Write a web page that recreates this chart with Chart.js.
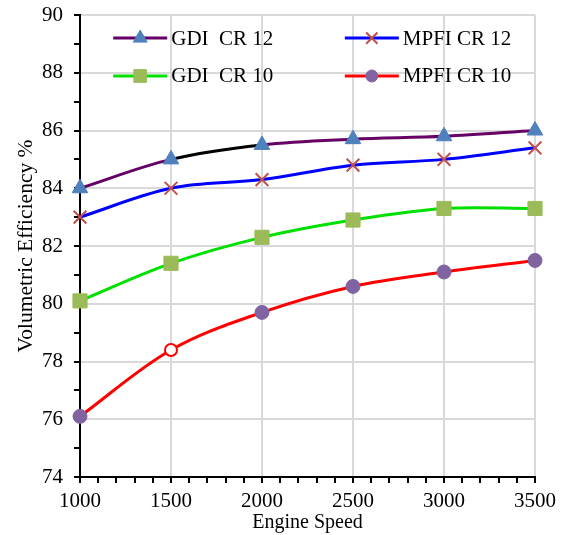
<!DOCTYPE html>
<html lang="en">
<head>
<meta charset="UTF-8">
<title>Volumetric Efficiency</title>
<script src="https://cdn.jsdelivr.net/npm/chart.js"></script>
<style>
  html, body { margin: 0; padding: 0; background: #fff; }
  #box { width: 565px; height: 535px; position: relative; }
</style>
</head>
<body>
<div id="box"><canvas id="grafico"></canvas></div>
<script>
// engine speed (x) values
var rpm = [1000, 1500, 2000, 2500, 3000, 3500];

// volumetric efficiency %
var gdiCr12  = [84.0, 85.0, 85.5, 85.7, 85.8, 86.0];
var mpfiCr12 = [83.0, 84.0, 84.3, 84.8, 85.0, 85.4];
var gdiCr10  = [80.1, 81.4, 82.3, 82.9, 83.3, 83.3];
var mpfiCr10 = [76.1, 78.4, 79.7, 80.6, 81.1, 81.5];

var nomes = ['GDI  CR 12', 'MPFI CR 12', 'GDI  CR 10', 'MPFI CR 10'];

function pontos(valores) {
  var lista = [];
  for (var i = 0; i < rpm.length; i++) {
    lista.push({ x: rpm[i], y: valores[i] });
  }
  return lista;
}

var fonte = "'Liberation Serif', 'Times New Roman', serif";

// legend drawn inside the plot area, two columns
var legendaDentro = {
  id: 'legendaDentro',
  afterDatasetsDraw: function (chart) {
    var ctx = chart.ctx;
    var area = chart.chartArea;
    var w = area.right - area.left;
    var h = area.bottom - area.top;
    var cols = [area.left + w * 0.073, area.left + w * 0.582];
    var rows = [area.top + h * 0.05, area.top + h * 0.132];
    ctx.save();
    for (var k = 0; k < 4; k++) {
      var ds = chart.data.datasets[k];
      var x0 = cols[k % 2];
      var y0 = rows[Math.floor(k / 2)];
      ctx.strokeStyle = ds.borderColor;
      ctx.lineWidth = 3;
      ctx.beginPath();
      ctx.moveTo(x0, y0);
      ctx.lineTo(x0 + 54, y0);
      ctx.stroke();
      var bg = Array.isArray(ds.pointBackgroundColor) ? ds.pointBackgroundColor[0] : ds.pointBackgroundColor;
      var bc = Array.isArray(ds.pointBorderColor) ? ds.pointBorderColor[0] : ds.pointBorderColor;
      var raio = Array.isArray(ds.pointRadius) ? ds.pointRadius[0] : ds.pointRadius;
      var bw = Array.isArray(ds.pointBorderWidth) ? ds.pointBorderWidth[0] : ds.pointBorderWidth;
      ctx.fillStyle = bg;
      ctx.strokeStyle = bc;
      ctx.lineWidth = bw;
      Chart.helpers.drawPoint(ctx, {
        pointStyle: ds.pointStyle,
        radius: raio - 1,
        borderWidth: bw,
        rotation: 0
      }, x0 + 27, y0);
      ctx.fillStyle = '#000';
      ctx.font = '21px ' + fonte;
      ctx.textBaseline = 'middle';
      ctx.textAlign = 'left';
      ctx.fillText(nomes[k], x0 + 58, y0 + 1);
    }
    ctx.restore();
  }
};

var ctxGrafico = document.getElementById('grafico');

new Chart(ctxGrafico, {
  type: 'line',
  data: {
    datasets: [
      {
        label: nomes[0],
        data: pontos(gdiCr12),
        borderColor: '#660066',
        borderWidth: 3,
        segment: {
          borderColor: function (c) { return c.p0DataIndex === 1 ? '#000000' : '#660066'; }
        },
        pointStyle: 'triangle',
        pointRadius: 9,
        pointBackgroundColor: '#4F81BD',
        pointBorderColor: '#4F81BD',
        pointBorderWidth: 1,
        tension: 0.35,
        clip: false,
        order: 4
      },
      {
        label: nomes[1],
        data: pontos(mpfiCr12),
        borderColor: '#0000FF',
        borderWidth: 3,
        pointStyle: 'crossRot',
        pointRadius: 9,
        pointBackgroundColor: '#C0504D',
        pointBorderColor: '#C0504D',
        pointBorderWidth: 2,
        tension: 0.35,
        clip: false,
        order: 3
      },
      {
        label: nomes[2],
        data: pontos(gdiCr10),
        borderColor: '#00E000',
        borderWidth: 3,
        pointStyle: 'rect',
        pointRadius: 10,
        pointBackgroundColor: '#9BBB59',
        pointBorderColor: '#9BBB59',
        pointBorderWidth: 1,
        tension: 0.35,
        clip: false,
        order: 2
      },
      {
        label: nomes[3],
        data: pontos(mpfiCr10),
        borderColor: '#FF0000',
        borderWidth: 3,
        pointStyle: 'circle',
        pointRadius: [7, 6, 7, 7, 7, 7],
        pointBackgroundColor: ['#8064A2', '#FFFFFF', '#8064A2', '#8064A2', '#8064A2', '#8064A2'],
        pointBorderColor: ['#8064A2', '#FF0000', '#8064A2', '#8064A2', '#8064A2', '#8064A2'],
        pointBorderWidth: [1, 2, 1, 1, 1, 1],
        tension: 0.35,
        clip: false,
        order: 1
      }
    ]
  },
  options: {
    responsive: true,
    maintainAspectRatio: false,
    animation: false,
    layout: { padding: { left: 0, right: 30, top: 15, bottom: 0 } },
    plugins: {
      legend: { display: false },
      tooltip: { enabled: false }
    },
    scales: {
      x: {
        type: 'linear',
        min: 1000,
        max: 3500,
        afterFit: function (s) { s.height = 58; s.paddingLeft = 0; s.paddingRight = 0; },
        border: { color: '#000', width: 2 },
        grid: {
          color: function (c) { return c.tick && c.tick.value % 500 === 0 ? '#D9D9D9' : 'rgba(0,0,0,0)'; },
          lineWidth: 2,
          tickColor: '#000',
          tickLength: 6,
          drawTicks: true
        },
        ticks: {
          stepSize: 100,
          autoSkip: false,
          maxRotation: 0,
          color: '#000',
          font: { family: fonte, size: 21 },
          padding: 6,
          callback: function (v) { return v % 500 === 0 ? v : ''; }
        },
        title: {
          display: true,
          text: 'Engine Speed',
          color: '#000',
          font: { family: fonte, size: 20 },
          padding: { top: 0, bottom: 0 }
        }
      },
      y: {
        min: 74,
        max: 90,
        afterFit: function (s) { s.width = 80; s.paddingTop = 0; s.paddingBottom = 0; },
        border: { color: '#000', width: 2 },
        grid: {
          color: function (c) { return c.tick && c.tick.value % 2 === 0 ? '#D9D9D9' : 'rgba(0,0,0,0)'; },
          lineWidth: 2,
          tickColor: '#000',
          tickLength: 6
        },
        ticks: {
          stepSize: 1,
          autoSkip: false,
          color: '#000',
          font: { family: fonte, size: 21 },
          padding: 11,
          callback: function (v) { return v % 2 === 0 ? v : ''; }
        },
        title: {
          display: true,
          text: 'Volumetric Efficiency %',
          color: '#000',
          font: { family: fonte, size: 21.5 },
          padding: { top: 13, bottom: 0 }
        }
      }
    }
  },
  plugins: [legendaDentro]
});
</script>
</body>
</html>
